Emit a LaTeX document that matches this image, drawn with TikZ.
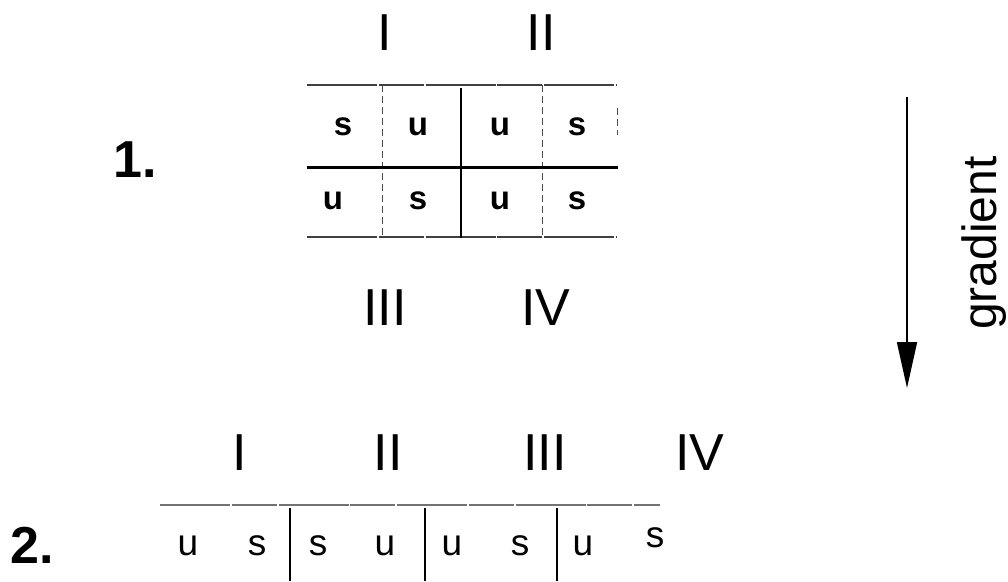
\documentclass[tikz,border=0pt]{standalone}
\usepackage{fontspec}
\setmainfont{Liberation Sans}
\usetikzlibrary{arrows.meta}
\tikzset{
  roman/.style={anchor=base, inner sep=0pt, font=\fontsize{52}{60}\selectfont},
  num/.style={anchor=base, inner sep=0pt, font=\fontsize{52}{60}\selectfont\bfseries},
  celltxt/.style={anchor=base, inner sep=0pt, font=\fontsize{33}{38}\selectfont\bfseries},
  celltxtb/.style={anchor=base, inner sep=0pt, font=\fontsize{37}{42}\selectfont},
  frameline/.style={line width=1.1pt, black!75, dash pattern=on 70pt off 1.5pt on 45pt off 2pt},
  divline/.style={line width=0.9pt, black!70, dash pattern=on 7pt off 4pt},
  heavyline/.style={line width=3pt, black},
  cellsep/.style={line width=1.8pt, black},
}
\begin{document}
\begin{tikzpicture}[x=1pt, y=-1pt]
\useasboundingbox (0,0) rectangle (1008,581);

% ---------- part 1 ----------
\node[num] (n1) at (135,177) {1.};
\node[roman] (l1) at (385,50) {I};
\node[roman] (l2) at (541,50) {II};
\node[roman] (l3) at (385,325) {III};
\node[roman] (l4) at (546,325) {IV};

\draw[frameline] (307,85) -- (617,85);
\draw[frameline] (307,237) -- (617,237);
\draw[divline] (382,85) -- (382,237);
\draw[divline] (542,85) -- (542,237);
\draw[divline] (617,108) -- (617,135);
\draw[heavyline] (307,167) -- (618,167);
\draw[line width=2.5pt] (461,88) -- (461,238);

\node[celltxt] (a1) at (343,135) {s};
\node[celltxt] (a2) at (418,135) {u};
\node[celltxt] (a3) at (500,135) {u};
\node[celltxt] (a4) at (577,135) {s};
\node[celltxt] (b1) at (333,209) {u};
\node[celltxt] (b2) at (418,209) {s};
\node[celltxt] (b3) at (500,209) {u};
\node[celltxt] (b4) at (577,209) {s};

% ---------- gradient arrow ----------
\coordinate (atop) at (907,97);
\coordinate (abot) at (907,388);
\draw[line width=1.8pt, -{Triangle[length=46pt,width=20pt]}] (atop) -- (abot);
\node[rotate=90, anchor=base, inner sep=0pt, font=\fontsize{48}{56}\selectfont] (grad) at (996,243) {gradient};

% ---------- part 2 ----------
\node[num] (n2) at (32,563) {2.};
\node[roman] (m1) at (240,470) {I};
\node[roman] (m2) at (388,470) {II};
\node[roman] (m3) at (545,470) {III};
\node[roman] (m4) at (700,470) {IV};

\draw[frameline, black!55] (160,505) -- (660,505);
\draw[cellsep] (290,508) -- (290,581);
\draw[cellsep] (425,508) -- (425,581);
\draw[cellsep] (557,508) -- (557,581);

\node[celltxtb] (c1) at (188,555) {u};
\node[celltxtb] (c2) at (257,555) {s};
\node[celltxtb] (c3) at (318,555) {s};
\node[celltxtb] (c4) at (385,555) {u};
\node[celltxtb] (c5) at (452,555) {u};
\node[celltxtb] (c6) at (520,555) {s};
\node[celltxtb] (c7) at (583,555) {u};
\node[celltxtb] (c8) at (655,547) {s};
\end{tikzpicture}
\end{document}
